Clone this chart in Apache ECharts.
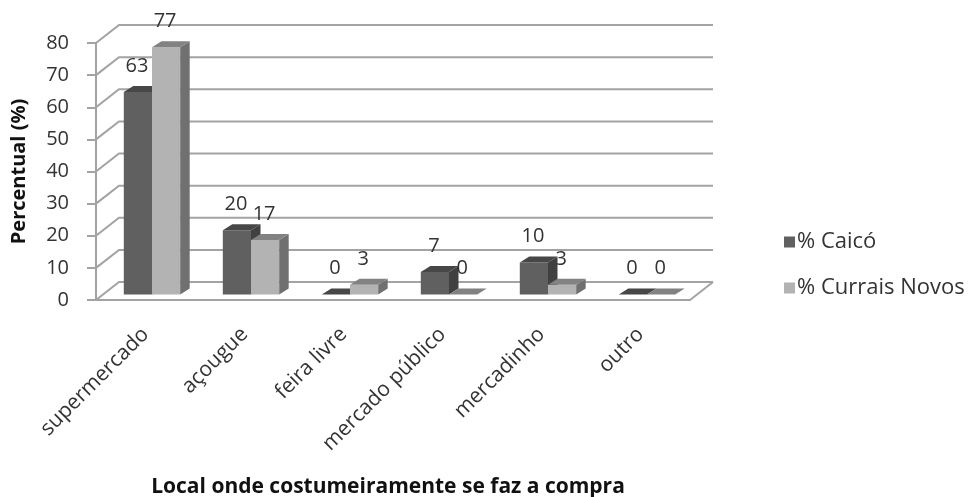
<!DOCTYPE html>
<html>
<head>
<meta charset="utf-8">
<style>html,body{margin:0;padding:0;background:#fff}#main{width:970px;height:497px}</style>
<script src="https://cdn.jsdelivr.net/npm/echarts@6/dist/echarts.min.js"></script>
</head>
<body>
<div id="main"></div>
<script>
var categories = ['supermercado', 'açougue', 'feira livre', 'mercado público', 'mercadinho', 'outro'];
var caico = [63, 20, 0, 7, 10, 0];
var curraisNovos = [77, 17, 3, 0, 3, 0];
var yTicks = [0, 10, 20, 30, 40, 50, 60, 70, 80];

var font = '"Open Sans"';
var lineColor = '#a3a3a3';
// perspective of the fake 3d box
var wallDx = 23, wallDy = -18;
var barW = 28.2, barDx = 9.5, barDy = -6, barShiftX = 6.5, barShiftY = -5.5;

var wallItem = function (params, api) {
    var box = params.coordSys;
    var p = api.coord([0, api.value(1)]);
    var pts = [[box.x, p[1]], [box.x + wallDx, p[1] + wallDy], [box.x + box.width + wallDx, p[1] + wallDy]];
    var children = [{
        type: 'polyline',
        shape: { points: pts },
        style: { stroke: lineColor, lineWidth: 2, fill: null }
    }];
    if (api.value(1) === 0) {
        children.push({
            type: 'line',
            shape: { x1: box.x + box.width, y1: p[1], x2: box.x + box.width + wallDx, y2: p[1] + wallDy },
            style: { stroke: lineColor, lineWidth: 2 }
        });
    }
    return { type: 'group', children: children };
};

var barItem = function (side, colors) {
    return function (params, api) {
        var top = api.coord([api.value(0), api.value(1)]);
        var base = api.coord([api.value(0), 0]);
        var x0 = base[0] + barShiftX + (side < 0 ? -barW : 0);
        var x1 = x0 + barW;
        var yT = top[1] + barShiftY;
        var yB = base[1] + barShiftY;
        var children = [];
        if (yB > yT) {
            children.push({
                type: 'rect',
                shape: { x: x0, y: yT, width: barW, height: yB - yT },
                style: { fill: colors[0] }
            });
            children.push({
                type: 'polygon',
                shape: { points: [[x1, yT], [x1 + barDx, yT + barDy], [x1 + barDx, yB + barDy], [x1, yB]] },
                style: { fill: colors[2] }
            });
        }
        children.push({
            type: 'polygon',
            shape: { points: [[x0, yT], [x1, yT], [x1 + barDx, yT + barDy], [x0 + barDx, yT + barDy]] },
            style: { fill: colors[1] }
        });
        children.push({
            type: 'text',
            style: {
                text: String(api.value(1)),
                x: (x0 + x1) / 2 - 1,
                y: yT - 26,
                align: 'center',
                verticalAlign: 'middle',
                fill: '#333',
                font: '20px ' + font
            }
        });
        return { type: 'group', children: children };
    };
};

var chart = echarts.init(document.getElementById('main'), null, { renderer: 'canvas' });
chart.setOption({
    animation: false,
    backgroundColor: '#fff',
    grid: { left: 96, right: 280, top: 43, bottom: 197, outerBoundsMode: 'none' },
    legend: {
        orient: 'vertical',
        left: 779,
        top: 226,
        itemWidth: 11,
        itemHeight: 11,
        itemGap: 24,
        icon: 'rect',
        data: ['% Caicó', '% Currais Novos'],
        textStyle: { fontFamily: font, fontSize: 22, color: '#333', padding: [0, 0, 0, -3] }
    },
    xAxis: {
        type: 'category',
        data: categories,
        axisLine: { lineStyle: { color: lineColor, width: 2 } },
        axisTick: { show: false },
        axisLabel: { rotate: 45, margin: 31, fontFamily: font, fontSize: 21, color: '#333', interval: 0 },
        name: 'Local onde costumeiramente se faz a compra',
        nameLocation: 'middle',
        nameGap: 177,
        nameTextStyle: { fontFamily: font, fontSize: 21, fontWeight: 'bold', color: '#111', padding: [0, 10, 0, 0] }
    },
    yAxis: {
        type: 'value',
        min: 0,
        max: 80,
        interval: 10,
        splitLine: { show: false },
        axisLine: { show: true, lineStyle: { color: lineColor, width: 2 } },
        axisTick: { show: true, length: 9, lineStyle: { color: lineColor, width: 2 } },
        axisLabel: { margin: 27, fontFamily: font, fontSize: 20, color: '#333' },
        name: 'Percentual (%)',
        nameLocation: 'middle',
        nameGap: 67,
        nameTextStyle: { fontFamily: font, fontSize: 20, fontWeight: 'bold', color: '#111' }
    },
    series: [{
        type: 'custom',
        silent: true,
        renderItem: wallItem,
        data: yTicks.map(function (v) { return [0, v]; }),
        encode: { x: 0, y: 1 }
    }, {
        type: 'custom',
        name: '% Caicó',
        renderItem: barItem(-1, ['#606060', '#474747', '#404040']),
        itemStyle: { color: '#606060' },
        data: caico.map(function (v, i) { return [i, v]; }),
        encode: { x: 0, y: 1 }
    }, {
        type: 'custom',
        name: '% Currais Novos',
        renderItem: barItem(1, ['#b3b3b3', '#828282', '#707070']),
        itemStyle: { color: '#b3b3b3' },
        data: curraisNovos.map(function (v, i) { return [i, v]; }),
        encode: { x: 0, y: 1 }
    }]
});
</script>
</body>
</html>
